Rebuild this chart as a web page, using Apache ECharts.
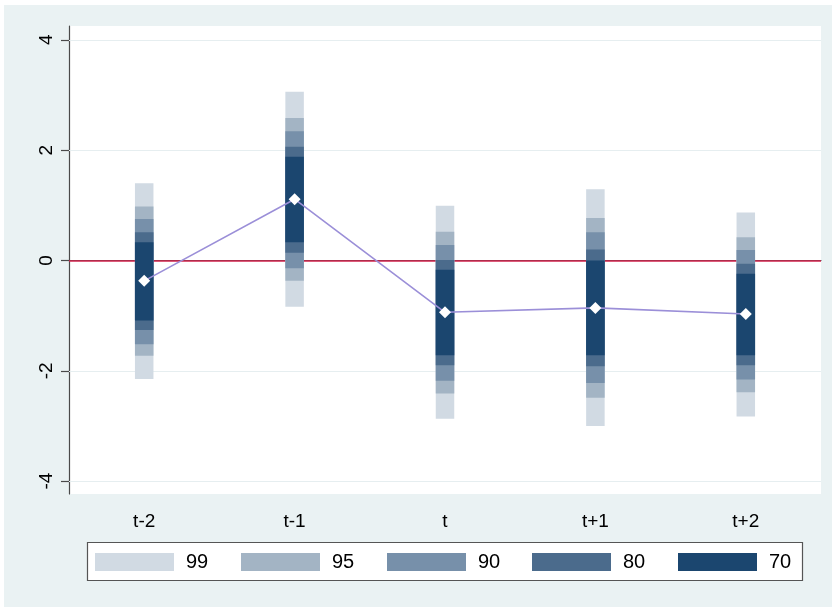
<!DOCTYPE html>
<html>
<head>
<meta charset="utf-8">
<script src="https://cdn.jsdelivr.net/npm/echarts@6/dist/echarts.min.js"></script>
<style>
html,body{margin:0;padding:0;background:#ffffff;}
#chart{width:832px;height:607px;}
</style>
</head>
<body>
<div id="chart"></div>
<script>
const categories = ['t-2', 't-1', 't', 't+1', 't+2'];
const estimates = [-0.37, 1.11, -0.94, -0.86, -0.97];
const ci99Low  = [-2.15, -0.84, -2.87, -3.00, -2.83];
const ci99High = [1.40, 3.06, 0.99, 1.29, 0.87];
const ci95Low  = [-1.73, -0.37, -2.41, -2.49, -2.39];
const ci95High = [0.98, 2.58, 0.52, 0.77, 0.42];
const ci90Low  = [-1.52, -0.14, -2.18, -2.22, -2.16];
const ci90High = [0.75, 2.34, 0.28, 0.51, 0.19];
const ci80Low  = [-1.26, 0.14, -1.90, -1.92, -1.90];
const ci80High = [0.51, 2.06, 0.01, 0.20, -0.06];
const ci70Low  = [-1.09, 0.33, -1.72, -1.72, -1.72];
const ci70High = [0.33, 1.88, -0.17, 0.00, -0.24];
const levelNames = ['99', '95', '90', '80', '70'];
const yTicks = [-4, -2, 0, 2, 4];
const gridLineValues = [-4, -2, 2, 4];

const levelColors = ['#d1dae3', '#a3b4c4', '#7790aa', '#4b6b8c', '#1b466f'];
const lows = [ci99Low, ci95Low, ci90Low, ci80Low, ci70Low];
const highs = [ci99High, ci95High, ci90High, ci80High, ci70High];

const chart = echarts.init(document.getElementById('chart'));
const FONT = 'Liberation Sans, Arial, sans-serif';

function renderRect(params, api) {
  const x = api.value(0);
  const lo = api.coord([x, api.value(1)]);
  const hi = api.coord([x, api.value(2)]);
  const w = 18.5;
  return {
    type: 'rect',
    shape: { x: lo[0] - w / 2, y: hi[1], width: w, height: lo[1] - hi[1] },
    style: api.style()
  };
}

const ciSeries = levelNames.map((name, k) => ({
  name: name,
  type: 'custom',
  renderItem: renderRect,
  itemStyle: { color: levelColors[k] },
  encode: { x: 0, y: [1, 2] },
  data: categories.map((c, i) => [i, lows[k][i], highs[k][i]]),
  z: 10 + k
}));

const legendLefts = [95, 241, 387, 532, 678];
const legends = levelNames.map((name, k) => ({
  data: [{ name: name, icon: 'rect' }],
  left: legendLefts[k],
  top: 552,
  itemWidth: 79,
  itemHeight: 18,
  selectedMode: false,
  padding: 0,
  textStyle: { fontFamily: FONT, fontSize: 20, color: '#000', padding: [0, 0, 0, 7] }
}));

const option = {
  animation: false,
  graphic: [
    { type: 'rect', shape: { x: 4, y: 5, width: 828, height: 602 }, style: { fill: '#eaf2f3' }, z: -10 },
    { type: 'rect', shape: { x: 69, y: 26, width: 752, height: 468 }, style: { fill: '#ffffff' }, z: -9 },
    { type: 'rect', shape: { x: 87.5, y: 542.5, width: 715, height: 38 }, style: { fill: '#ffffff', stroke: '#555555', lineWidth: 1.2 }, z: -8 }
  ],
  grid: { left: 69, top: 26, right: 11, bottom: 113 },
  legend: legends,
  xAxis: {
    type: 'category',
    data: categories,
    boundaryGap: true,
    axisLine: { show: true, lineStyle: { color: '#4a4a4a', width: 1.2 } },
    axisTick: { show: true, alignWithLabel: true, length: 8, lineStyle: { color: '#4a4a4a', width: 1.2 } },
    axisLabel: { fontFamily: FONT, fontSize: 19, color: '#000', margin: 18 },
    splitLine: { show: false }
  },
  yAxis: {
    type: 'value',
    min: -4.234,
    max: 4.25,
    axisLine: { show: true, lineStyle: { color: '#4a4a4a', width: 1.2 } },
    axisTick: { show: true, length: 8, customValues: yTicks, lineStyle: { color: '#4a4a4a', width: 1.2 } },
    axisLabel: { fontFamily: FONT, fontSize: 19, color: '#000', rotate: 90, margin: 13, customValues: yTicks },
    splitLine: { show: false }
  },
  series: [
    {
      name: 'ref',
      type: 'line',
      data: [],
      z: 1,
      markLine: {
        silent: true,
        z: 1,
        symbol: 'none',
        label: { show: false },
        data: gridLineValues.map(v => ({ yAxis: v, lineStyle: { color: '#e6eef0', width: 1.2, type: 'solid' } }))
          .concat([{ yAxis: 0, lineStyle: { color: '#d2234d', width: 1.5, type: 'solid' } }])
      }
    }
  ].concat(ciSeries).concat([
    {
      name: 'estimate',
      type: 'line',
      data: estimates,
      z: 20,
      lineStyle: { color: '#9b8fd8', width: 1.6 },
      symbol: 'diamond',
      symbolSize: 12,
      itemStyle: { color: '#ffffff', borderWidth: 0 }
    }
  ])
};
chart.setOption(option);
</script>
</body>
</html>
